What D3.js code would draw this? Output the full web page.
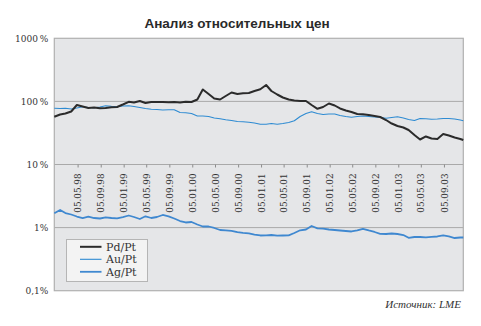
<!DOCTYPE html>
<html>
<head>
<meta charset="utf-8">
<script src="https://cdn.jsdelivr.net/npm/d3@7"></script>
<style>
  html, body { margin: 0; padding: 0; background: #ffffff; }
  svg { display: block; }
</style>
</head>
<body>
<svg id="chart" width="481" height="326"></svg>
<script>
// Monthly observation dates (first of month), last point mid-December 2003
const dates = [
  "1998-01-01","1998-02-01","1998-03-01","1998-04-01","1998-05-01","1998-06-01","1998-07-01","1998-08-01","1998-09-01","1998-10-01","1998-11-01","1998-12-01",
  "1999-01-01","1999-02-01","1999-03-01","1999-04-01","1999-05-01","1999-06-01","1999-07-01","1999-08-01","1999-09-01","1999-10-01","1999-11-01","1999-12-01",
  "2000-01-01","2000-02-01","2000-03-01","2000-04-01","2000-05-01","2000-06-01","2000-07-01","2000-08-01","2000-09-01","2000-10-01","2000-11-01","2000-12-01",
  "2001-01-01","2001-02-01","2001-03-01","2001-04-01","2001-05-01","2001-06-01","2001-07-01","2001-08-01","2001-09-01","2001-10-01","2001-11-01","2001-12-01",
  "2002-01-01","2002-02-01","2002-03-01","2002-04-01","2002-05-01","2002-06-01","2002-07-01","2002-08-01","2002-09-01","2002-10-01","2002-11-01","2002-12-01",
  "2003-01-01","2003-02-01","2003-03-01","2003-04-01","2003-05-01","2003-06-01","2003-07-01","2003-08-01","2003-09-01","2003-10-01","2003-11-01","2003-12-01",
  "2003-12-17"
];

// Price ratios, % of platinum price
const pdPt = [
  57.2, 62.0, 64.3, 69.2, 87.7, 83.0, 78.6, 80.0, 77.7, 78.6, 80.6, 81.5,
  89.3, 98.6, 96.1, 101.5, 94.3, 97.8, 97.8, 97.8, 96.8, 97.8, 96.1, 98.9,
  97.8, 107.2, 154.4, 131.0, 111.2, 107.2, 121.8, 138.4, 131.0, 134.4, 135.9, 146.2,
  155.5, 181.9, 146.2, 128.6, 115.3, 107.2, 103.3, 101.5, 101.5, 87.7, 76.3, 81.5,
  92.6, 86.1, 77.2, 71.7, 67.9, 63.1, 62.4, 60.9, 58.7, 56.6, 50.7, 44.6,
  40.7, 38.6, 35.2, 29.3, 24.9, 27.8, 25.8, 25.4, 30.4, 28.8, 26.8, 25.4,
  24.4
];
const auPt = [
  77.7, 77.2, 77.7, 75.8, 78.6, 82.4, 80.0, 79.5, 81.5, 85.5, 83.6, 82.4,
  84.6, 85.5, 83.0, 80.0, 77.2, 75.0, 74.4, 73.1, 73.9, 73.9, 66.7, 66.0,
  64.3, 58.7, 58.7, 57.6, 54.6, 53.0, 51.1, 49.8, 48.0, 47.5, 46.6, 45.5,
  43.4, 43.4, 44.6, 43.5, 44.6, 46.3, 49.3, 57.6, 64.3, 68.7, 64.3, 62.0,
  63.1, 63.1, 59.8, 57.6, 56.0, 57.6, 58.7, 57.6, 56.6, 56.0, 54.2, 55.6,
  57.0, 54.6, 51.7, 49.8, 53.6, 53.0, 52.2, 52.6, 53.6, 53.6, 52.6, 50.7,
  49.4
];
const agPt = [
  1.685, 1.900, 1.703, 1.613, 1.499, 1.419, 1.488, 1.419, 1.394, 1.457, 1.419, 1.404,
  1.472, 1.555, 1.472, 1.369, 1.511, 1.419, 1.472, 1.584, 1.511, 1.394, 1.272, 1.205,
  1.227, 1.120, 1.041, 1.041, 0.986, 0.916, 0.906, 0.890, 0.846, 0.827, 0.812, 0.777,
  0.750, 0.755, 0.763, 0.744, 0.750, 0.755, 0.821, 0.906, 0.933, 1.060, 0.975, 0.961,
  0.933, 0.916, 0.900, 0.884, 0.868, 0.900, 0.957, 0.900, 0.852, 0.797, 0.792, 0.806,
  0.792, 0.763, 0.689, 0.710, 0.710, 0.702, 0.715, 0.723, 0.750, 0.723, 0.684, 0.697,
  0.697
];

const seriesNames = ["Pd/Pt", "Au/Pt", "Ag/Pt"];
const xTickLabels = [
  "05.05.98","05.09.98","05.01.99","05.05.99","05.09.99","05.01.00","05.05.00","05.09.00",
  "05.01.01","05.05.01","05.09.01","05.01.02","05.05.02","05.09.02","05.01.03","05.05.03","05.09.03"
];
const yTickValues = [0.1, 1, 10, 100, 1000];
const yTickLabels = ["0,1%", "1%", "10\u2009%", "100\u2009%", "1000\u2009%"];

const titleText = "Анализ относительных цен";
const sourceText = "Источник: LME";

// ---- layout ----
const W = 481, H = 326;
const plot = { left: 54.3, right: 463.3, top: 38.3, bottom: 290.7 };

const parseDay = d3.timeParse("%Y-%m-%d");
const parseTick = d3.timeParse("%d.%m.%y");
const xDates = dates.map(parseDay);
const tickDates = xTickLabels.map(parseTick);

const x = d3.scaleTime()
  .domain([parseDay("1998-01-01"), parseDay("2003-12-17")])
  .range([plot.left, plot.right]);
const y = d3.scaleLog()
  .domain([0.1, 1000])
  .range([plot.bottom, plot.top]);

const svg = d3.select("#chart");

// title
svg.append("text")
  .attr("x", 237).attr("y", 28)
  .attr("text-anchor", "middle")
  .style("font-family", "'Liberation Sans', Arial, sans-serif")
  .style("font-weight", "bold")
  .style("font-size", "13.5px")
  .style("fill", "#2a2a2a")
  .text(titleText);

// plot background
svg.append("rect")
  .attr("x", plot.left).attr("y", plot.top)
  .attr("width", plot.right - plot.left)
  .attr("height", plot.bottom - plot.top)
  .attr("fill", "#e5e6e8");

// horizontal gridlines
svg.append("g")
  .selectAll("line")
  .data(yTickValues.slice(1, -1))
  .join("line")
  .attr("x1", plot.left).attr("x2", plot.right)
  .attr("y1", d => y(d)).attr("y2", d => y(d))
  .attr("stroke", "#a9a9a9").attr("stroke-width", 1);

// plot frame
svg.append("rect")
  .attr("x", plot.left).attr("y", plot.top)
  .attr("width", plot.right - plot.left)
  .attr("height", plot.bottom - plot.top)
  .attr("fill", "none")
  .attr("stroke", "#b0b0b0").attr("stroke-width", 1.2);

// y axis labels
const yAxis = d3.axisLeft(y)
  .tickValues(yTickValues)
  .tickFormat((d, i) => yTickLabels[i])
  .tickSize(0)
  .tickPadding(6);
const gy = svg.append("g")
  .attr("transform", `translate(${plot.left},0)`)
  .call(yAxis);
gy.select(".domain").remove();
gy.selectAll("text")
  .style("font-family", "'DejaVu Serif', serif")
  .style("font-size", "9px")
  .style("fill", "#333");

// x axis along the 10 % line
const xAxis = d3.axisBottom(x)
  .tickValues(tickDates)
  .tickFormat((d, i) => xTickLabels[i])
  .tickSizeInner(3)
  .tickSizeOuter(0);
const gx = svg.append("g")
  .attr("transform", `translate(0,${y(10)})`)
  .call(xAxis);
gx.select(".domain").remove();
gx.selectAll(".tick line").attr("stroke", "#8c8c8c");
gx.selectAll("text")
  .attr("transform", "rotate(-90)")
  .attr("text-anchor", "end")
  .attr("x", -9)
  .attr("y", 0)
  .attr("dy", "0.35em")
  .style("font-family", "'DejaVu Serif', serif")
  .style("font-size", "8.8px")
  .style("fill", "#333");

// series lines
const seriesData = [pdPt, auPt, agPt];
const seriesStyle = [
  { color: "#2b2b2b", width: 2.0 },
  { color: "#2e8bd2", width: 1.1 },
  { color: "#3f88d0", width: 1.8 }
];
const line = d3.line()
  .x((d, i) => x(xDates[i]))
  .y(d => y(d));

svg.append("g")
  .selectAll("path")
  .data([2, 1, 0])
  .join("path")
  .attr("d", k => line(seriesData[k]))
  .attr("fill", "none")
  .attr("stroke", k => seriesStyle[k].color)
  .attr("stroke-width", k => seriesStyle[k].width)
  .attr("stroke-linejoin", "round");

// legend
const lg = svg.append("g").attr("transform", "translate(66.5,239.5)");
lg.append("rect")
  .attr("width", 81).attr("height", 42)
  .attr("fill", "#f3f3f3")
  .attr("stroke", "#b5b5b5").attr("stroke-width", 1);
seriesNames.forEach((name, i) => {
  const cy = 7.3 + i * 12.5;
  lg.append("line")
    .attr("x1", 13.5).attr("x2", 35)
    .attr("y1", cy).attr("y2", cy)
    .attr("stroke", seriesStyle[i].color)
    .attr("stroke-width", seriesStyle[i].width);
  lg.append("text")
    .attr("x", 39.5).attr("y", cy)
    .attr("dy", "0.35em")
    .style("font-family", "'DejaVu Serif', serif")
    .style("font-size", "11px")
    .style("fill", "#333")
    .text(name);
});

// source note
svg.append("text")
  .attr("x", 461).attr("y", 308)
  .attr("text-anchor", "end")
  .style("font-family", "'Liberation Serif', 'Times New Roman', serif")
  .style("font-style", "italic")
  .style("font-size", "11px")
  .style("fill", "#333")
  .text(sourceText);
</script>
</body>
</html>
